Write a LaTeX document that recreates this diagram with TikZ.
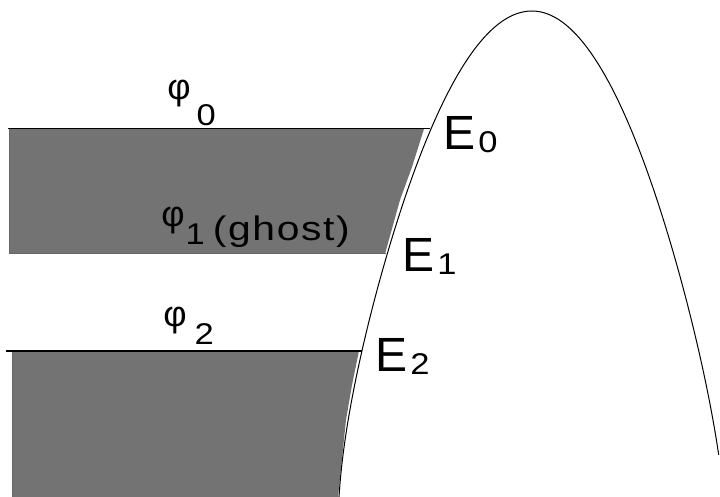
\documentclass[tikz,border=0pt]{standalone}
\usepackage{fontspec}
\setmainfont{Liberation Sans}
\usetikzlibrary{calc}
\definecolor{wellGray}{HTML}{737373}
\tikzset{
  every node/.style={inner sep=0pt, anchor=base west},
  barrier/.style={draw=black, line width=0.5pt, line join=round},
  level/.style={draw=black, line width=0.6pt},
  band/.style={fill=wellGray},
  bandedge/.style={draw=black!60, line width=0.5pt},
  elabel/.style={font=\fontsize{24}{24}\selectfont},
  philabel/.style={font=\fontsize{18}{18}\selectfont},
}
\newcommand{\subtxt}[1]{\scalebox{1.15}[1]{\fontsize{15}{15}\selectfont #1}}
\newcommand{\esub}[1]{\hspace{1.5pt}\raisebox{-1.5pt}{\subtxt{#1}}}
\newcommand{\phisub}[3]{\hspace{#3}\raisebox{#2}{\subtxt{#1}}}

\begin{document}
\begin{tikzpicture}[x=0.5pt, y=-0.5pt]
  \useasboundingbox (0,0) rectangle (720,497);

  % ── Filled bands under the levels ──
  \fill[band] (10,129) -- (424,129) -- (412,167) -- (400,200) -- (385,254) -- (10,254) -- cycle;
  \fill[band] (13,351) -- (359,351) -- (352,385) -- (346,420) -- (338,497) -- (13,497) -- cycle;
  \draw[bandedge] (10,129) -- (10,254) -- (386,254);
  \draw[bandedge] (13,351) -- (13,497);

  % ── Level lines ──
  \draw[level] (8,128.5) -- (430,128.5);
  \draw[level] (6,351) -- (362,351);

  % ── Barrier (left and right flank, apex at (532,11)) ──
  \draw[barrier]
    plot[smooth, domain=22.05:0, samples=50, variable=\s]
      ({532 - 9.3*\s + 12*pow(\s*\s/486,6)}, {11 + \s*\s})
    -- plot[smooth, domain=0:21.07, samples=50, variable=\s]
      ({532 + 9.1*\s - 5*pow(\s*\s/444,6)}, {11 + \s*\s});

  % ── Labels ──
  \node[philabel] (phi0) at (167,100) {φ\phisub{0}{-13pt}{3pt}};
  \node[philabel] (phi1) at (161,227) {φ\phisub{1}{-9pt}{0.5pt}\hspace{4pt}%
    \raisebox{-7pt}{\scalebox{1.2}[1]{\fontsize{17}{17}\selectfont\addfontfeature{LetterSpace=4}(ghost)}}};
  \node[philabel] (phi2) at (163,327) {φ\phisub{2}{-9pt}{4pt}};

  \node[elabel] (E0) at (443,150) {E\esub{0}};
  \node[elabel] (E1) at (402,272) {E\esub{1}};
  \node[elabel] (E2) at (375,372) {E\esub{2}};
\end{tikzpicture}
\end{document}
